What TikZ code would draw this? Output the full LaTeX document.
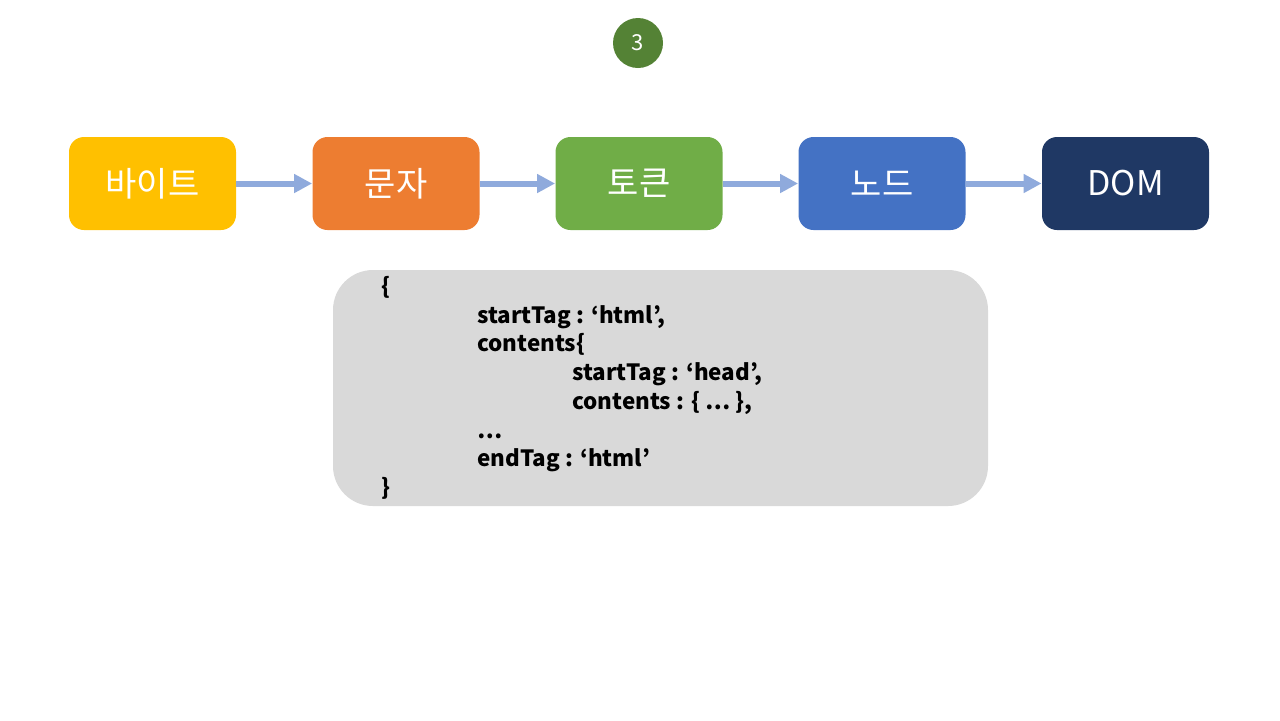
\documentclass[tikz,border=0pt]{standalone}
\usepackage{fontspec}
\setmainfont{Noto Sans CJK KR}
\usetikzlibrary{positioning, arrows.meta}
\definecolor{bytecol}{RGB}{255,192,0}
\definecolor{charcol}{RGB}{237,125,49}
\definecolor{tokencol}{RGB}{112,173,71}
\definecolor{nodecol}{RGB}{68,114,196}
\definecolor{domcol}{RGB}{31,56,100}
\definecolor{stepgreen}{RGB}{84,130,53}
\definecolor{flowblue}{RGB}{143,170,220}
\definecolor{codegray}{RGB}{217,217,217}

\tikzset{
  stagebox/.style={rounded corners=7.5pt, minimum width=83.5pt, minimum height=46.5pt, inner sep=0pt, text=white, font=\fontsize{17}{20}\selectfont},
  flow/.style={draw=flowblue, line width=3pt, -{Triangle[length=9pt, width=9pt]}}
}

\begin{document}
\begin{tikzpicture}[x=0.5pt, y=-0.5pt]
  \useasboundingbox (0,0) rectangle (1280,720);

    \node[circle, fill=stepgreen, minimum size=25pt, inner sep=0pt, text=white, font=\fontsize{11}{13}\selectfont] (num) at (638,43) {3};

    \node[stagebox, fill=bytecol] (byte) at (152.5,183.5) {바이트};
    \node[stagebox, fill=charcol] (char) at (396,183.5) {문자};
    \node[stagebox, fill=tokencol] (token) at (639,183.5) {토큰};
    \node[stagebox, fill=nodecol] (tnode) at (882,183.5) {노드};
    \node[stagebox, fill=domcol] (dom) at (1125.5,183.5) {DOM};

    \draw[flow] (byte) -- (char);
    \draw[flow] (char) -- (token);
    \draw[flow] (token) -- (tnode);
    \draw[flow] (tnode) -- (dom);

    \node[fill=codegray, rounded corners=20pt, minimum width=327.5pt, minimum height=118pt] (code) at (660.5,388) {};

    \node[anchor=north west, inner sep=0pt, align=left, font=\bfseries\fontsize{11.2}{14.35}\selectfont, xshift=-0.5pt] (tree) at (382,276)
      {\{\\
       \hspace*{48pt}startTag : ‘html’,\\
       \hspace*{48pt}contents\{\\
       \hspace*{95.5pt}startTag : ‘head’,\\
       \hspace*{95.5pt}contents : \{ … \},\\
       \hspace*{48pt}…\\
       \hspace*{48pt}endTag : ‘html’\\
       \}};

\end{tikzpicture}
\end{document}
